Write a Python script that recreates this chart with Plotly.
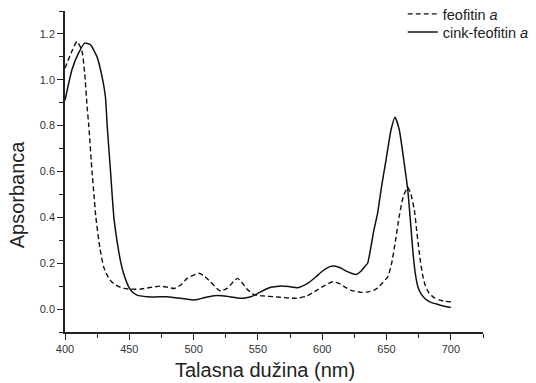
import plotly.graph_objects as go

# feofitin a (dashed)
wl_feo = [400, 405, 409.3, 413, 415.3, 417.2, 418.5, 421, 422.5, 424, 427.3, 430, 432.5, 436,
          441, 446, 451, 458, 466, 474, 480, 485, 490, 495, 504, 508, 513, 518, 521, 526,
          531, 534, 537, 541, 547, 555, 562, 572, 580, 587, 594, 601, 608, 613, 618, 622,
          630, 636, 640.5, 643, 647, 651, 654, 657, 660, 663, 666.5, 669, 671.6, 673.5,
          675.5, 678, 680, 683, 687, 691, 695, 700]
abs_feo = [1.05, 1.12, 1.167, 1.13, 1.03, 0.88, 0.80, 0.60, 0.50, 0.40, 0.26, 0.185, 0.15, 0.12,
           0.10, 0.09, 0.087, 0.087, 0.094, 0.10, 0.095, 0.09, 0.105, 0.134, 0.156, 0.145, 0.119, 0.09, 0.079, 0.09,
           0.12, 0.134, 0.12, 0.09, 0.063, 0.057, 0.054, 0.049, 0.047, 0.055, 0.076, 0.10, 0.119, 0.112, 0.095, 0.083,
           0.073, 0.075, 0.083, 0.092, 0.115, 0.141, 0.20, 0.30, 0.41, 0.49, 0.531, 0.50, 0.432, 0.34,
           0.243, 0.15, 0.105, 0.07, 0.05, 0.04, 0.034, 0.032]

# cink-feofitin a (solid)
wl_zn = [400, 405.4, 410.6, 415.3, 419.7, 424.9, 428.8, 431.4, 432.8, 435.4, 438, 441.5, 443.5, 445.5,
         449.5, 452, 456, 464, 470, 479.5, 490, 499, 504, 508, 515.8, 522, 528, 536.6, 540, 544.4,
         549, 554.8, 560, 566.5, 574, 580.8, 588.6, 595, 600, 605, 609.3, 614, 620, 626.2, 630.1,
         633, 635.3, 640, 643.1, 646, 649.6, 653.5, 656.6, 659.9, 663.4, 666.5, 668.5, 670.5, 672.5,
         674.5, 677, 680, 684, 690, 695, 700]
abs_zn = [0.91, 1.044, 1.117, 1.16, 1.153, 1.10, 1.014, 0.927, 0.80, 0.60, 0.40, 0.26, 0.20, 0.156,
          0.097, 0.077, 0.061, 0.054, 0.053, 0.054, 0.047, 0.040, 0.043, 0.049, 0.058, 0.058, 0.054, 0.047, 0.048, 0.054,
          0.065, 0.083, 0.095, 0.10, 0.098, 0.093, 0.112, 0.14, 0.165, 0.183, 0.188, 0.18, 0.162, 0.151, 0.165,
          0.185, 0.20, 0.34, 0.42, 0.53, 0.65, 0.782, 0.837, 0.782, 0.65, 0.52, 0.39, 0.25, 0.15,
          0.095, 0.065, 0.045, 0.03, 0.02, 0.012, 0.007]

x_ticks = [400, 450, 500, 550, 600, 650, 700]
y_ticks = [0.0, 0.2, 0.4, 0.6, 0.8, 1.0, 1.2]

FONT = "Liberation Sans, Arial, sans-serif"

fig = go.Figure()
fig.add_trace(go.Scatter(x=wl_feo, y=abs_feo, mode="lines", name="feofitin <i>a</i>", legend="legend",
                         line=dict(color="#111111", width=1.4, dash="5px,3px", shape="spline", smoothing=0.5)))
fig.add_trace(go.Scatter(x=wl_zn, y=abs_zn, mode="lines", name="cink-feofitin <i>a</i>", legend="legend2",
                         line=dict(color="#111111", width=1.5, shape="spline", smoothing=0.5)))

axis_common = dict(showgrid=False, zeroline=False, showline=True, linecolor="#222222", linewidth=1.5,
                   ticks="outside", ticklen=6, tickwidth=1.2, tickcolor="#222222",
                   tickfont=dict(family=FONT, size=11, color="#333333"), mirror=False)

fig.update_xaxes(range=[400, 725], tickvals=x_ticks, ticktext=[str(v) for v in x_ticks],
                 minor=dict(dtick=25, tick0=400, ticks="outside", ticklen=4, tickwidth=1.2, tickcolor="#222222"),
                 **axis_common)
fig.update_yaxes(range=[-0.1, 1.3], tickvals=y_ticks, ticktext=[f"{v:.1f}" for v in y_ticks],
                 minor=dict(dtick=0.1, tick0=0, ticks="outside", ticklen=4, tickwidth=1.2, tickcolor="#222222"),
                 **axis_common)

fig.add_annotation(text="Talasna dužina (nm)", xref="paper", yref="paper", x=0.478, y=-0.118,
                   showarrow=False, font=dict(family=FONT, size=20, color="#222222"),
                   xanchor="center", yanchor="middle")
fig.add_annotation(text="Apsorbanca", xref="paper", yref="paper", x=-0.114, y=0.43, textangle=-90,
                   showarrow=False, font=dict(family=FONT, size=20, color="#222222"),
                   xanchor="center", yanchor="middle")

leg_common = dict(xanchor="left", yanchor="middle", bgcolor="rgba(0,0,0,0)",
                  font=dict(family=FONT, size=14.5, color="#222222"), itemwidth=30)
fig.update_layout(
    width=536, height=383,
    margin=dict(l=65, r=53, t=11, b=51, autoexpand=False),
    paper_bgcolor="white", plot_bgcolor="white",
    showlegend=True,
    legend=dict(x=0.808, y=0.9907, **leg_common),
    legend2=dict(x=0.808, y=0.9346, **leg_common),
)

fig.write_html("out.html")
